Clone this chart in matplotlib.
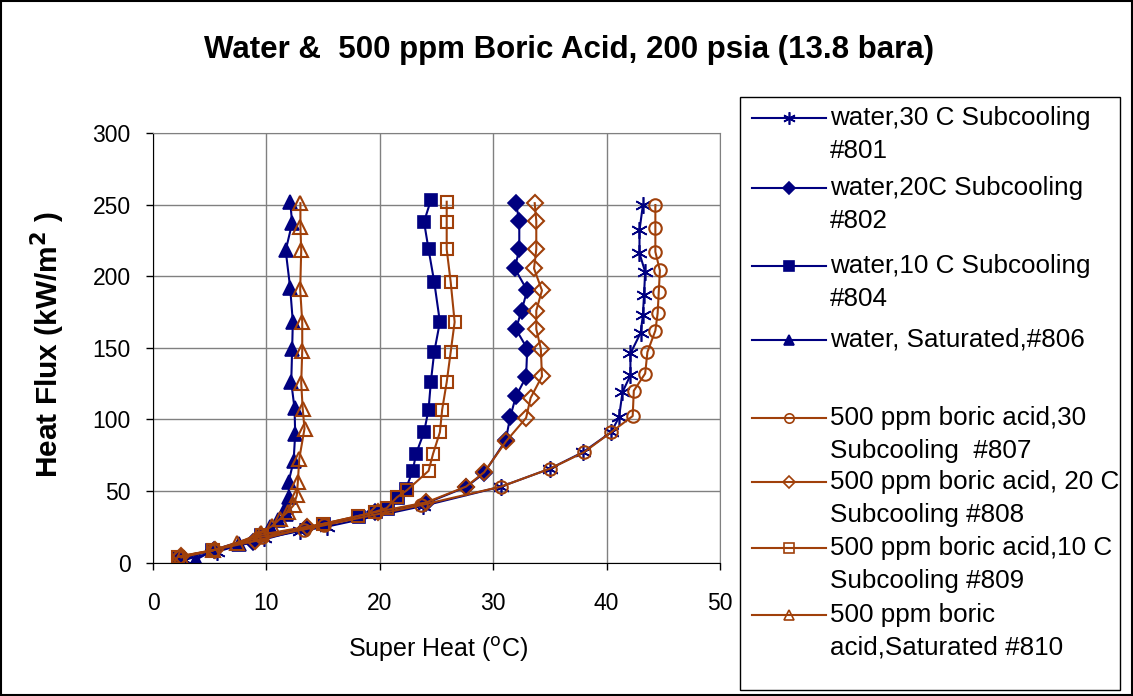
import numpy as np
import matplotlib.pyplot as plt
from matplotlib.lines import Line2D
from matplotlib.patches import Rectangle

plt.rcParams['font.family'] = ['Liberation Sans', 'DejaVu Sans']

# Superheat (C) and heat flux (kW/m2) for each run
w801_x = [2.8, 5.6, 9.8, 13.0, 15.3, 23.8, 30.7, 35.0, 37.9, 40.4, 41.1, 41.4, 42.1, 42.1,
          43.0, 43.2, 43.3, 43.4, 42.9, 42.9, 43.2]
w801_y = [2, 7.5, 17, 22, 25, 39.5, 53, 65.5, 77, 91, 101.6, 119, 130.8, 146,
          160.4, 172.7, 186.7, 203, 216, 232, 249.7]

w802_x = [2.5, 5.4, 8.8, 13.5, 19.6, 24.1, 27.6, 29.2, 31.1, 31.5, 32.0, 32.9, 33.0,
          32.0, 32.5, 33.0, 31.9, 32.3, 32.3, 32.0]
w802_y = [3, 8.5, 14, 24, 35, 41.5, 52.7, 62.4, 85.3, 101.6, 116, 129.6, 149.4,
          163, 176, 190, 205.4, 218.7, 238.5, 251]

w804_x = [2.3, 5.2, 9.5, 15.1, 18.2, 19.7, 20.7, 21.6, 22.3, 22.9, 23.2, 23.9, 24.3,
          24.5, 24.8, 25.3, 24.8, 24.3, 23.9, 24.5]
w804_y = [3, 8.4, 19, 26.6, 32, 35, 37.5, 45, 51.5, 63.9, 76, 91, 106.8,
          126, 147, 168, 196, 218.7, 238, 253]

w806_x = [3.8, 5.3, 7.55, 9.4, 10.3, 11.0, 11.7, 11.7, 12.0, 11.95, 12.4, 12.54, 12.48,
          12.19, 12.27, 12.33, 12.1, 11.7, 12.27, 12.1]
w806_y = [2, 8.4, 13, 20, 25, 29.5, 34, 38.5, 45.7, 56, 71, 90, 107.7,
          126, 149, 168, 191.6, 218, 237, 252]

b807_x = [2.3, 5.3, 9.6, 13.3, 15.1, 23.6, 30.7, 35.0, 38.0, 40.4, 42.3, 42.4, 43.4, 43.6,
          44.3, 44.5, 44.6, 44.7, 44.3, 44.3, 44.3]
b807_y = [4, 8.5, 18, 23, 26, 40, 53, 65.5, 77, 91, 102.3, 120, 132, 147,
          162, 174, 189, 204, 217, 233.8, 249.7]

b808_x = [2.5, 5.5, 9.0, 13.6, 19.8, 24.1, 27.6, 29.2, 31.15, 32.9, 33.3, 34.3, 34.2,
          33.8, 33.8, 34.3, 33.6, 33.8, 33.8, 33.66]
b808_y = [4.5, 9, 15, 24.5, 35.5, 42, 53, 63, 84.8, 101, 115, 130, 149.4,
          163, 176, 190, 205.4, 218.7, 238.5, 251]

b809_x = [2.2, 5.3, 9.6, 15.0, 18.1, 19.6, 20.6, 21.5, 22.4, 24.3, 24.7, 25.3, 25.5,
          25.9, 26.25, 26.6, 26.25, 25.9, 25.9, 25.9]
b809_y = [4, 8.5, 19.5, 27, 32.5, 35.5, 38, 45.5, 50.5, 64, 76, 91, 106.8,
          126, 147, 168, 196, 218.7, 238, 252]

b810_x = [2.5, 5.3, 7.4, 9.5, 10.5, 11.2, 11.9, 12.4, 12.68, 12.77, 12.9, 13.36, 13.2,
          13.07, 13.16, 13.16, 12.98, 13.07, 13.0, 13.0]
b810_y = [3.5, 8.6, 13.5, 20.5, 25.5, 30.5, 35.5, 40, 46.8, 56, 72.5, 93.5, 107.5,
          125.4, 148, 168, 190.7, 218, 234.5, 251]

labels = ['water,30 C Subcooling\n#801', 'water,20C Subcooling\n#802',
          'water,10 C Subcooling\n#804', 'water, Saturated,#806',
          '500 ppm boric acid,30\nSubcooling  #807', '500 ppm boric acid, 20 C\nSubcooling #808',
          '500 ppm boric acid,10 C\nSubcooling #809', '500 ppm boric\nacid,Saturated #810']

navy = '#000080'
brown = '#A0400A'
asterisk = (6, 2, 0)

W, H = 1133, 696
fig = plt.figure(figsize=(W / 100, H / 100), dpi=100)
ax = fig.add_axes([153 / W, 1 - 562.5 / H, (720 - 153) / W, (562.5 - 133) / H])

series = [
    (w801_x, w801_y, navy, asterisk, navy, 12),
    (w802_x, w802_y, navy, 'D', navy, 8),
    (w804_x, w804_y, navy, 's', navy, 9),
    (w806_x, w806_y, navy, '^', navy, 10),
    (b807_x, b807_y, brown, 'o', 'none', 9),
    (b808_x, b808_y, brown, 'D', 'none', 8),
    (b809_x, b809_y, brown, 's', 'none', 9),
    (b810_x, b810_y, brown, '^', 'none', 10),
]

for x, y, c, m, fc, ms in series:
    ax.plot(x, y, color=c, lw=1.5, marker=m, markersize=ms,
            markerfacecolor=fc, markeredgecolor=c,
            markeredgewidth=1.5 if fc == 'none' else 1.2)

ax.set_xlim(0, 50)
ax.set_ylim(0, 300)
ax.set_xticks(np.arange(0, 51, 10))
ax.set_yticks(np.arange(0, 301, 50))
ax.grid(True, color='#808080', lw=1.0)
ax.set_axisbelow(True)
ax.tick_params(labelsize=16.5, direction='out', length=5, width=1, colors='black')
ax.tick_params(axis='x', pad=16)
ax.tick_params(axis='y', pad=11)
for s in ['top', 'right']:
    ax.spines[s].set_color('#808080')
for s in ['left', 'bottom']:
    ax.spines[s].set_color('black')

fig.text(438 / W, 1 - 650 / H, 'Super Heat ($^{\\rm o}$C)', ha='center', va='center', fontsize=18)
fig.text(48 / W, 1 - 345 / H, 'Heat Flux (kW/m$^{\\bf 2}$ )', ha='center', va='center',
         rotation=90, fontsize=21.5, fontweight='bold')
fig.text(569 / W, 1 - 50 / H, 'Water &  500 ppm Boric Acid, 200 psia (13.8 bara)',
         ha='center', va='center', fontsize=22.5, fontweight='bold')

# legend drawn by hand so each marker sits on the first line of its label
fig.patches.append(Rectangle((740 / W, 1 - 690 / H), 380 / W, 593 / H, transform=fig.transFigure,
                             fill=False, edgecolor='black', lw=1.0))
first_rows = [118, 188, 266, 340, 418, 482, 548, 615]
for (x, y, c, m, fc, ms), lab, row in zip(series, labels, first_rows):
    yy = 1 - row / H
    fig.lines.append(Line2D([752 / W, 789 / W, 826 / W], [yy, yy, yy], transform=fig.transFigure,
                            color=c, lw=1.5, marker=m, markevery=[1], markersize=ms * 0.75,
                            markerfacecolor=fc, markeredgecolor=c, markeredgewidth=1.2))
    for k, part in enumerate(lab.split('\n')):
        fig.text(830 / W, 1 - (row + 33 * k) / H, part, ha='left', va='center', fontsize=18.7)

fig.patches.append(Rectangle((0.001, 0.001), 0.998, 0.997, transform=fig.transFigure,
                             fill=False, edgecolor='black', lw=1.5))

fig.savefig('out.png', dpi=100)
